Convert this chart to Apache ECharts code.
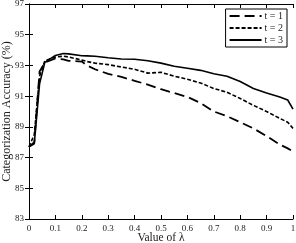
<!DOCTYPE html>
<html><head><meta charset="utf-8">
<script src="https://cdn.jsdelivr.net/npm/echarts@6/dist/echarts.min.js"></script>
<style>html,body{margin:0;padding:0;background:#fff}#c{width:296px;height:243px}</style>
</head><body><div id="c"></div>
<script>
const lambdas = [0,0.02,0.04,0.06,0.1,0.13,0.15,0.2,0.22,0.25,0.3,0.35,0.4,0.45,0.5,0.55,0.6,0.65,0.7,0.75,0.8,0.85,0.9,0.95,0.98,1.0];
const t1 = [87.7,88.0,92.6,93.2,93.45,93.4,93.3,93.25,93.0,92.75,92.45,92.25,92.0,91.75,91.45,91.2,90.95,90.55,90.0,89.7,89.3,88.9,88.4,87.85,87.6,87.4];
const t2 = [87.7,88.5,92.3,93.3,93.55,93.6,93.55,93.35,93.25,93.15,93.05,92.9,92.75,92.5,92.55,92.3,92.1,91.85,91.5,91.25,90.85,90.4,90.0,89.55,89.3,88.9];
const t3 = [87.7,87.9,91.8,93.2,93.65,93.78,93.75,93.63,93.62,93.6,93.5,93.42,93.4,93.3,93.15,92.95,92.82,92.68,92.46,92.3,91.95,91.5,91.2,90.95,90.75,90.15];
const seriesNames = ['t = 1','t = 2','t = 3'];
const yTicks = {min:83, max:97, interval:2};
const xTicks = {min:0, max:1, interval:0.1};

const font = 'Liberation Serif';
const pair = a => lambdas.map((x,i)=>[x,a[i]]);
const chart = echarts.init(document.getElementById('c'));
const axLine = {show:true, lineStyle:{color:'#000', width:1}};
const tick = {show:true, inside:true, length:4, lineStyle:{color:'#000'}};
const lbl = {fontFamily:font, fontSize:9, color:'#222'};
chart.setOption({
  animation:false,
  grid:{left:29, right:3, top:4, bottom:24, containLabel:false, outerBoundsMode:'none'},
  legend:{
    orient:'vertical', right:9, top:9, itemWidth:32, itemHeight:8, itemGap:2,
    borderColor:'#000', borderWidth:1, padding:[2,4,2,3], backgroundColor:'#fff',
    itemStyle:{opacity:0},
    textStyle:{fontFamily:font, fontSize:10, color:'#222', padding:[0,0,0,-2]},
    data:seriesNames
  },
  xAxis:[
    {type:'value', min:xTicks.min, max:xTicks.max, interval:xTicks.interval, position:'bottom',
     axisLine:axLine, axisTick:tick, splitLine:{show:false},
     axisLabel:Object.assign({margin:5, formatter:v=>String(+v.toFixed(1))}, lbl),
     name:'Value of λ', nameLocation:'middle', nameGap:13, nameMoveOverlap:false,
     nameTextStyle:{fontFamily:font, fontSize:11.5, color:'#222'}},
    {type:'value', min:xTicks.min, max:xTicks.max, interval:xTicks.interval, position:'top',
     axisLine:axLine, axisTick:tick, splitLine:{show:false}, axisLabel:{show:false}}
  ],
  yAxis:[
    {type:'value', min:yTicks.min, max:yTicks.max, interval:yTicks.interval, position:'left',
     axisLine:axLine, axisTick:tick, splitLine:{show:false},
     axisLabel:Object.assign({margin:5}, lbl),
     name:'Categorization Accuracy (%)', nameLocation:'middle', nameGap:16, nameMoveOverlap:false,
     nameTextStyle:{fontFamily:font, fontSize:12, color:'#222'}},
    {type:'value', min:yTicks.min, max:yTicks.max, interval:yTicks.interval, position:'right',
     axisLine:axLine, axisTick:tick, splitLine:{show:false}, axisLabel:{show:false}}
  ],
  series:[
    {name:seriesNames[0], type:'line', data:pair(t1), symbol:'none',
     lineStyle:{color:'#000', width:1.8, type:[10,5]}, itemStyle:{color:'#000'}},
    {name:seriesNames[1], type:'line', data:pair(t2), symbol:'none',
     lineStyle:{color:'#000', width:1.6, type:[4,2]}, itemStyle:{color:'#000'}},
    {name:seriesNames[2], type:'line', data:pair(t3), symbol:'none',
     lineStyle:{color:'#000', width:1.6, type:'solid'}, itemStyle:{color:'#000'}}
  ]
});
</script></body></html>
